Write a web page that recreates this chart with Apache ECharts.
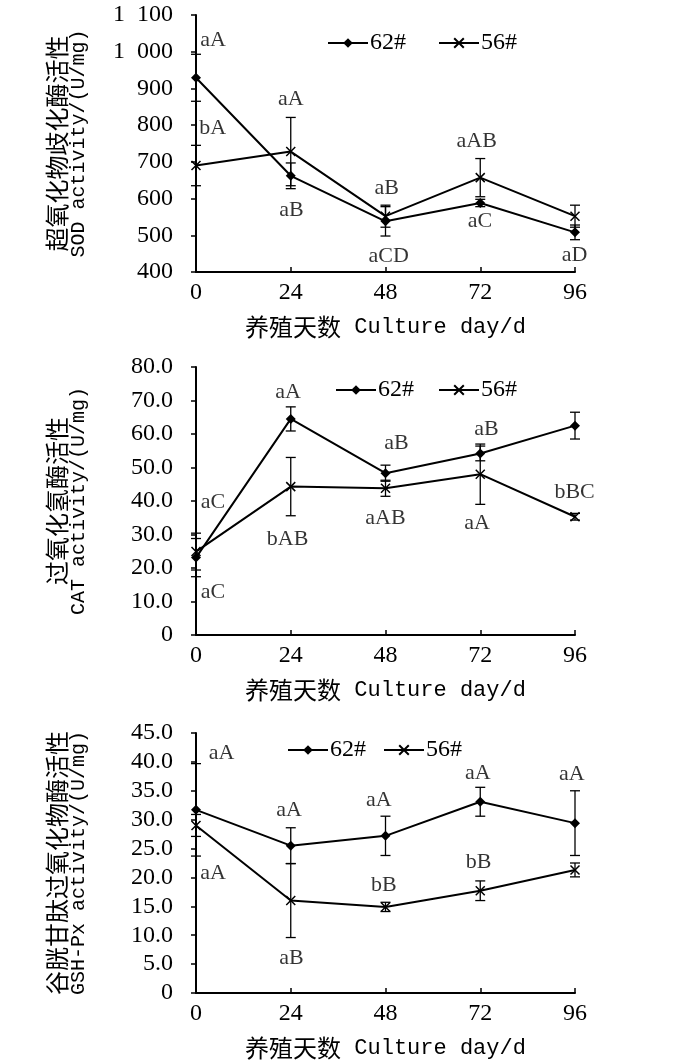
<!DOCTYPE html>
<html>
<head>
<meta charset="utf-8">
<title>SOD CAT GSH-Px</title>
<script src="https://cdn.jsdelivr.net/npm/echarts@6/dist/echarts.min.js"></script>
<style>
  html, body { margin: 0; padding: 0; background: #fff; }
  #main { width: 700px; height: 1063px; }
</style>
</head>
<body>
<div id="main"></div>
<script>
// 培养天数
var days = [0, 24, 48, 72, 96];
var seriesNames = ['62#', '56#'];

// SOD
var sod62 = [929, 662, 538, 588, 508];
var sod62Sd = [64, 35, 40, 10, 20];
var sod56 = [690, 728, 552, 657, 552];
var sod56Sd = [55, 93, 30, 52, 30];
var sodTicks = [400, 500, 600, 700, 800, 900, 1000, 1100];
var sodTickLabels = ['400', '500', '600', '700', '800', '900', '1\u2002000', '1\u2002100'];
var sodMarks = [
  [4.3, 1032, 'aA'], [4.2, 792, 'bA'], [24, 871, 'aA'], [24.2, 568, 'aB'],
  [48.3, 629, 'aB'], [48.8, 443, 'aCD'], [71.1, 756, 'aAB'], [71.9, 538, 'aC'],
  [97, 623, 'aB'], [95.9, 445, 'aD']
];

// CAT
var cat62 = [23.1, 64.5, 48.3, 54.2, 62.5];
var cat62Sd = [5.7, 3.6, 2.4, 2.2, 4.0];
var cat56 = [24.9, 44.3, 43.8, 48.0, 35.3];
var cat56Sd = [5.5, 8.7, 2.4, 9.0, 1.0];
var catTicks = [0, 10, 20, 30, 40, 50, 60, 70, 80];
var catTickLabels = ['0', '10.0', '20.0', '30.0', '40.0', '50.0', '60.0', '70.0', '80.0'];
var catMarks = [
  [4.3, 39.6, 'aC'], [4.3, 12.9, 'aC'], [23.3, 72.5, 'aA'], [23.2, 28.5, 'bAB'],
  [50.8, 57.2, 'aB'], [48.0, 34.8, 'aAB'], [73.6, 61.3, 'aB'], [71.2, 33.5, 'aA'],
  [97.5, 71.3, 'aA'], [95.9, 42.7, 'bBC']
];

// GSH-Px
var gsh62 = [31.7, 25.5, 27.2, 33.1, 29.4];
var gsh62Sd = [8.0, 3.1, 3.4, 2.5, 5.6];
var gsh56 = [29.0, 16.0, 14.9, 17.7, 21.3];
var gsh56Sd = [1.9, 6.4, 0.8, 1.7, 1.2];
var gshTicks = [0, 5, 10, 15, 20, 25, 30, 35, 40, 45];
var gshTickLabels = ['0', '5.0', '10.0', '15.0', '20.0', '25.0', '30.0', '35.0', '40.0', '45.0'];
var gshMarks = [
  [6.5, 41.5, 'aA'], [4.3, 20.8, 'aA'], [23.6, 31.7, 'aA'], [24.2, 6.1, 'aB'],
  [46.3, 33.3, 'aA'], [47.6, 18.6, 'bB'], [71.4, 38.1, 'aA'], [71.6, 22.6, 'bB'],
  [95.2, 37.8, 'aA'], [96.6, 16.8, 'bB']
];

var CN = '"Noto Sans CJK SC"';
var SERIF = '"Liberation Serif", "Times New Roman", serif';
var MONO = '"Liberation Mono", monospace';
var crossPath = 'path://M0,0L10,10M10,0L0,10';

var myChart = echarts.init(document.getElementById('main'), null, { renderer: 'canvas' });

var grids = [
  { left: 196, top: 15, width: 379, height: 257 },
  { left: 196, top: 367, width: 379, height: 268 },
  { left: 196, top: 733, width: 379, height: 260 }
];

function xAxisOf(idx) {
  return {
    type: 'value', gridIndex: idx, min: 0, max: 96, interval: 24,
    name: '{cn|养殖天数}{en|\u00a0Culture day/d}',
    nameLocation: 'middle', nameGap: 43,
    nameTextStyle: {
      rich: {
        cn: { fontFamily: CN, fontSize: 24, color: '#000' },
        en: { fontFamily: MONO, fontSize: 22, color: '#000' }
      }
    },
    axisLine: { show: true, lineStyle: { color: '#000', width: 2 } },
    axisTick: { show: true, inside: true, length: 5, lineStyle: { color: '#000', width: 1.5 } },
    axisLabel: { fontFamily: SERIF, fontSize: 24, color: '#000', margin: 9 },
    splitLine: { show: false }
  };
}

function yAxisOf(idx, ticks, labels, cn, en) {
  return {
    type: 'value', gridIndex: idx,
    min: ticks[0], max: ticks[ticks.length - 1], interval: ticks[1] - ticks[0],
    name: '{cn|' + cn + '}\n{en|' + en + '}',
    nameLocation: 'middle', nameGap: 106, nameRotate: 90,
    nameTextStyle: {
      rich: {
        cn: { fontFamily: CN, fontSize: 24, lineHeight: 23, color: '#000' },
        en: { fontFamily: MONO, fontSize: 20, lineHeight: 22, color: '#000' }
      }
    },
    axisLine: { show: true, lineStyle: { color: '#000', width: 2 } },
    axisTick: { show: true, inside: false, length: 5, lineStyle: { color: '#000', width: 1.5 } },
    axisLabel: {
      fontFamily: SERIF, fontSize: 24, color: '#000', margin: 23,
      formatter: function (v) {
        var i = ticks.indexOf(v);
        return i >= 0 ? labels[i] : '';
      }
    },
    splitLine: { show: false }
  };
}

function pairs(vals) {
  return days.map(function (d, i) { return [d, vals[i]]; });
}

function lineSeries(idx, name, vals) {
  var is62 = name === '62#';
  return {
    name: name, type: 'line', xAxisIndex: idx, yAxisIndex: idx,
    data: pairs(vals),
    symbol: is62 ? 'diamond' : crossPath,
    symbolSize: is62 ? 10 : 9,
    showSymbol: true,
    lineStyle: { color: '#000', width: 2 },
    itemStyle: is62 ? { color: '#000' } : { color: '#000', borderColor: '#000', borderWidth: 1.5 },
    z: 3
  };
}

// 误差线
function errorSeries(idx, name, vals, sd) {
  return {
    name: name, type: 'custom', xAxisIndex: idx, yAxisIndex: idx,
    data: days.map(function (d, i) { return [d, vals[i] - sd[i], vals[i] + sd[i]]; }),
    encode: { x: 0, y: [1, 2] },
    clip: false,
    silent: true,
    renderItem: function (params, api) {
      var x = api.value(0);
      var lo = api.coord([x, api.value(1)]);
      var hi = api.coord([x, api.value(2)]);
      var w = 5;
      var st = { stroke: '#000', lineWidth: 1.3 };
      return {
        type: 'group',
        children: [
          { type: 'line', shape: { x1: lo[0], y1: lo[1], x2: hi[0], y2: hi[1] }, style: st },
          { type: 'line', shape: { x1: hi[0] - w, y1: hi[1], x2: hi[0] + w, y2: hi[1] }, style: st },
          { type: 'line', shape: { x1: lo[0] - w, y1: lo[1], x2: lo[0] + w, y2: lo[1] }, style: st }
        ]
      };
    },
    z: 2
  };
}

// 显著性字母
function markSeries(idx, marks) {
  return {
    type: 'scatter', xAxisIndex: idx, yAxisIndex: idx,
    data: marks, symbolSize: 1, silent: true,
    itemStyle: { color: 'rgba(0,0,0,0)' },
    label: {
      show: true, position: 'inside',
      fontFamily: SERIF, fontSize: 22, color: '#000',
      formatter: function (p) { return p.value[2]; }
    },
    z: 5
  };
}

function legendOf(left, top, gap) {
  return {
    left: left, top: top, itemGap: gap,
    itemWidth: 40, itemHeight: 12,
    data: seriesNames,
    selectedMode: false,
    textStyle: { fontFamily: SERIF, fontSize: 24, color: '#000', padding: [0, 0, 0, -3] }
  };
}

var option = {
  animation: false,
  backgroundColor: '#fff',
  grid: grids,
  legend: [
    legendOf(322, 26, 32),
    legendOf(330, 373, 24),
    legendOf(282, 733, 17)
  ],
  xAxis: [xAxisOf(0), xAxisOf(1), xAxisOf(2)],
  yAxis: [
    yAxisOf(0, sodTicks, sodTickLabels, '超氧化物歧化酶活性', 'SOD activity/(U/mg)'),
    yAxisOf(1, catTicks, catTickLabels, '过氧化氢酶活性', 'CAT activity/(U/mg)'),
    yAxisOf(2, gshTicks, gshTickLabels, '谷胱甘肽过氧化物酶活性', 'GSH-Px activity/(U/mg)')
  ],
  series: [
    lineSeries(0, '62#', sod62), lineSeries(0, '56#', sod56),
    errorSeries(0, '62#', sod62, sod62Sd), errorSeries(0, '56#', sod56, sod56Sd),
    markSeries(0, sodMarks),
    lineSeries(1, '62#', cat62), lineSeries(1, '56#', cat56),
    errorSeries(1, '62#', cat62, cat62Sd), errorSeries(1, '56#', cat56, cat56Sd),
    markSeries(1, catMarks),
    lineSeries(2, '62#', gsh62), lineSeries(2, '56#', gsh56),
    errorSeries(2, '62#', gsh62, gsh62Sd), errorSeries(2, '56#', gsh56, gsh56Sd),
    markSeries(2, gshMarks)
  ]
};

myChart.setOption(option);
</script>
</body>
</html>
